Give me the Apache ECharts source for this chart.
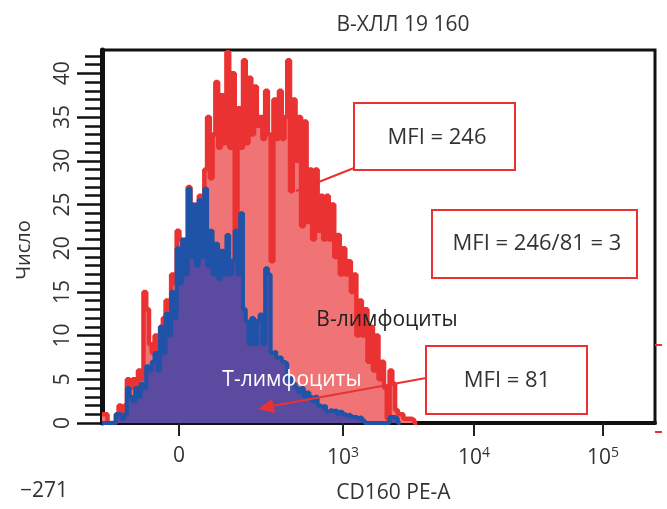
<!DOCTYPE html>
<html><head><meta charset="utf-8">
<script src="https://cdn.jsdelivr.net/npm/echarts@6/dist/echarts.min.js"></script>
<style>html,body{margin:0;padding:0;background:#fff}#c{width:667px;height:509px}</style>
</head><body><div id="c"></div>
<script>
// Counts per channel bin (bin i spans [i, i+1] on the channel axis)
const bCellCounts = [1,1,0,0,0,1,2,1,2,5, 4,5,4,6,5,15,13,9,8,10, 8,11,12,14,13,17,16,22,21,20,
  21,27,25,24,25,26,25,29,35,28, 33,39,31.5,37.5,32,42.4,31.5,40,13,36, 31.5,41.5,32,39.5,33,38.5,34,35,32.5,38,
  33,18.5,37,32.5,38,32.5,35,41.5,26.5,37, 30,35,22.5,34.5,23,29,21,29,22,26, 21,26,21,25,19,21.5,17,20,17,18.5,
  15,17,10,14,10,13,7,11,6,10, 5,7,4,0.5,6,4.5,1.5,1,1,0.5, 0.5,0.5,0.3,0];
const tCellCounts = [0,0,0,0,0,1,1,0.5,1,4, 3,2.5,4,3,4.5,4,6.5,6,7,8, 6,11,8,12.5,10,15,12,20,16,21,
  17,26.8,19,25,18,25.5,19,26.8,18,22, 17,20.5,16.5,19.7,17,21.5,17,18.6,22,17, 24,13,11.6,9,12,9,11.7,12.4,9,17.7,
  17,8,8.2,7.5,7.5,7,6.8,5,5.2,4.5, 4,3.5,4,3,3.5,3,2.5,3,2,1.8, 2,1.3,1.5,1.3,1.5,1,1.3,1,0.8,1,
  0.7,0.7,0.5,0.7,0.3,0,0,0,0,0, 0,0,0,0,0.7,0.7,0.5,0];
const xTickPositions = [27.85, 87.2, 134.5, 181.2];
const xTickLabels = ['0', '10{s|3}', '10{s|4}', '10{s|5}'];
const xMinLabel = '\u2212271';
const yMajorTicks = [0,5,10,15,20,25,30,35,40];
const yMinorTicks = [0,1,2,3,4,5,6,7,8,9,10,11,12,13,14,15,16,17,18,19,20,21,22,23,24,25,26,27,28,29,30,31,32,33,34,35,36,37,38,39,40,41,42];
const X_MAX = 200, Y_MAX = 42.67;
const titleText = 'В-ХЛЛ 19 160';
const xName = 'CD160 PE-A', yName = 'Число';
const bName = 'В-лимфоциты', tName = 'Т-лимфоциты';
const mfiB = 'MFI = 246', mfiT = 'MFI = 81', mfiRatio = 'MFI = 246/81 = 3';

function toSteps(arr){ return arr.map((v,i)=>[i,v]).concat([[arr.length,0]]); }
const FONT = "'Open Sans','Noto Sans',sans-serif";
const TXT = '#333';
const RED = '#ea3232';

const chart = echarts.init(document.getElementById('c'), null, {renderer:'canvas'});
chart.setOption({
  animation:false,
  backgroundColor:'#fff',
  textStyle:{fontFamily:FONT},
  title:{text:titleText, left:398, top:10, textAlign:'center',
    textStyle:{fontSize:21, fontWeight:'normal', color:TXT, fontFamily:FONT}},
  grid:{left:102, right:12, top:50, bottom:75, show:true, borderColor:'#111', borderWidth:3, backgroundColor:'#fff'},
  xAxis:{type:'value', min:0, max:X_MAX,
    name:xName, nameLocation:'middle', nameGap:60,
    nameTextStyle:{fontSize:21, fontWeight:'normal', color:TXT, padding:[0,0,0,30]},
    axisLine:{show:true, onZero:false, lineStyle:{color:'#111', width:4}},
    axisTick:{show:true, customValues:xTickPositions, length:13, lineStyle:{color:'#222', width:2}},
    axisLabel:{show:true, customValues:xTickPositions, margin:23, fontSize:21, color:TXT,
      formatter:function(v){ let k=0,d=1e9; xTickPositions.forEach((p,i)=>{ if(Math.abs(p-v)<d){d=Math.abs(p-v);k=i;} }); return xTickLabels[k]; },
      rich:{s:{fontSize:14, color:TXT, verticalAlign:'top', padding:[0,0,10,0]}}},
    splitLine:{show:false}},
  yAxis:[
    {type:'value', min:0, max:Y_MAX,
      axisLine:{show:true, lineStyle:{color:'#111', width:5}},
      axisTick:{show:true, customValues:yMajorTicks, length:25, lineStyle:{color:'#111', width:2.5}},
      axisLabel:{show:true, customValues:yMajorTicks, rotate:90, margin:28, fontSize:21, color:TXT},
      splitLine:{show:false}},
    {type:'value', min:0, max:Y_MAX, position:'left',
      axisLine:{show:false},
      axisTick:{show:true, customValues:yMinorTicks, length:17, lineStyle:{color:'#111', width:2.5}},
      axisLabel:{show:false}, splitLine:{show:false}}
  ],
  series:[
    {name:bName, type:'line', step:'end', data:toSteps(bCellCounts), symbol:'none', yAxisIndex:0,
      lineStyle:{color:RED, width:4.5}, areaStyle:{color:'#f07475', opacity:1}, z:2},
    {name:tName, type:'line', step:'end', data:toSteps(tCellCounts), symbol:'none', yAxisIndex:0,
      lineStyle:{color:'#1f53a8', width:4}, areaStyle:{color:'#5a4aa0', opacity:1}, z:3}
  ],
  graphic:[
    {type:'text', x:24, y:250, rotation:Math.PI/2, style:{text:yName, font:'20px '+FONT, fill:TXT, align:'center', verticalAlign:'middle'}},
    {type:'text', left:20, top:481, style:{text:xMinLabel, font:'21px '+FONT, fill:TXT}},
    {type:'line', shape:{x1:354,y1:168,x2:296,y2:191}, style:{stroke:RED, lineWidth:2}, z:10},
    {type:'line', shape:{x1:426,y1:378,x2:272,y2:406}, style:{stroke:RED, lineWidth:2}, z:10},
    {type:'polygon', shape:{points:[[258,409],[275,413],[272,399]]}, style:{fill:RED}, z:10},
    {type:'rect', shape:{x:354,y:103,width:161,height:67}, style:{fill:'#fff', stroke:RED, lineWidth:2}, z:10},
    {type:'text', x:437, y:138, style:{text:mfiB, font:'22px '+FONT, fill:TXT, align:'center', verticalAlign:'middle'}, z:11},
    {type:'rect', shape:{x:432,y:210,width:205,height:68}, style:{fill:'#fff', stroke:RED, lineWidth:2}, z:10},
    {type:'text', x:537, y:244, style:{text:mfiRatio, font:'22px '+FONT, fill:TXT, align:'center', verticalAlign:'middle'}, z:11},
    {type:'rect', shape:{x:426,y:346,width:161,height:68}, style:{fill:'#fff', stroke:RED, lineWidth:2}, z:10},
    {type:'text', x:507, y:381, style:{text:mfiT, font:'22px '+FONT, fill:TXT, align:'center', verticalAlign:'middle'}, z:11},
    {type:'text', x:387, y:320, style:{text:bName, font:'21px '+FONT, fill:'#222', align:'center', verticalAlign:'middle'}, z:11},
    {type:'text', x:292, y:380, style:{text:tName, font:'21px '+FONT, fill:'#fff', align:'center', verticalAlign:'middle'}, z:11},
    {type:'line', shape:{x1:655,y1:345,x2:662,y2:345}, style:{stroke:RED, lineWidth:2}, z:10},
    {type:'line', shape:{x1:655,y1:432,x2:662,y2:432}, style:{stroke:RED, lineWidth:2}, z:10}
  ]
});
</script></body></html>
